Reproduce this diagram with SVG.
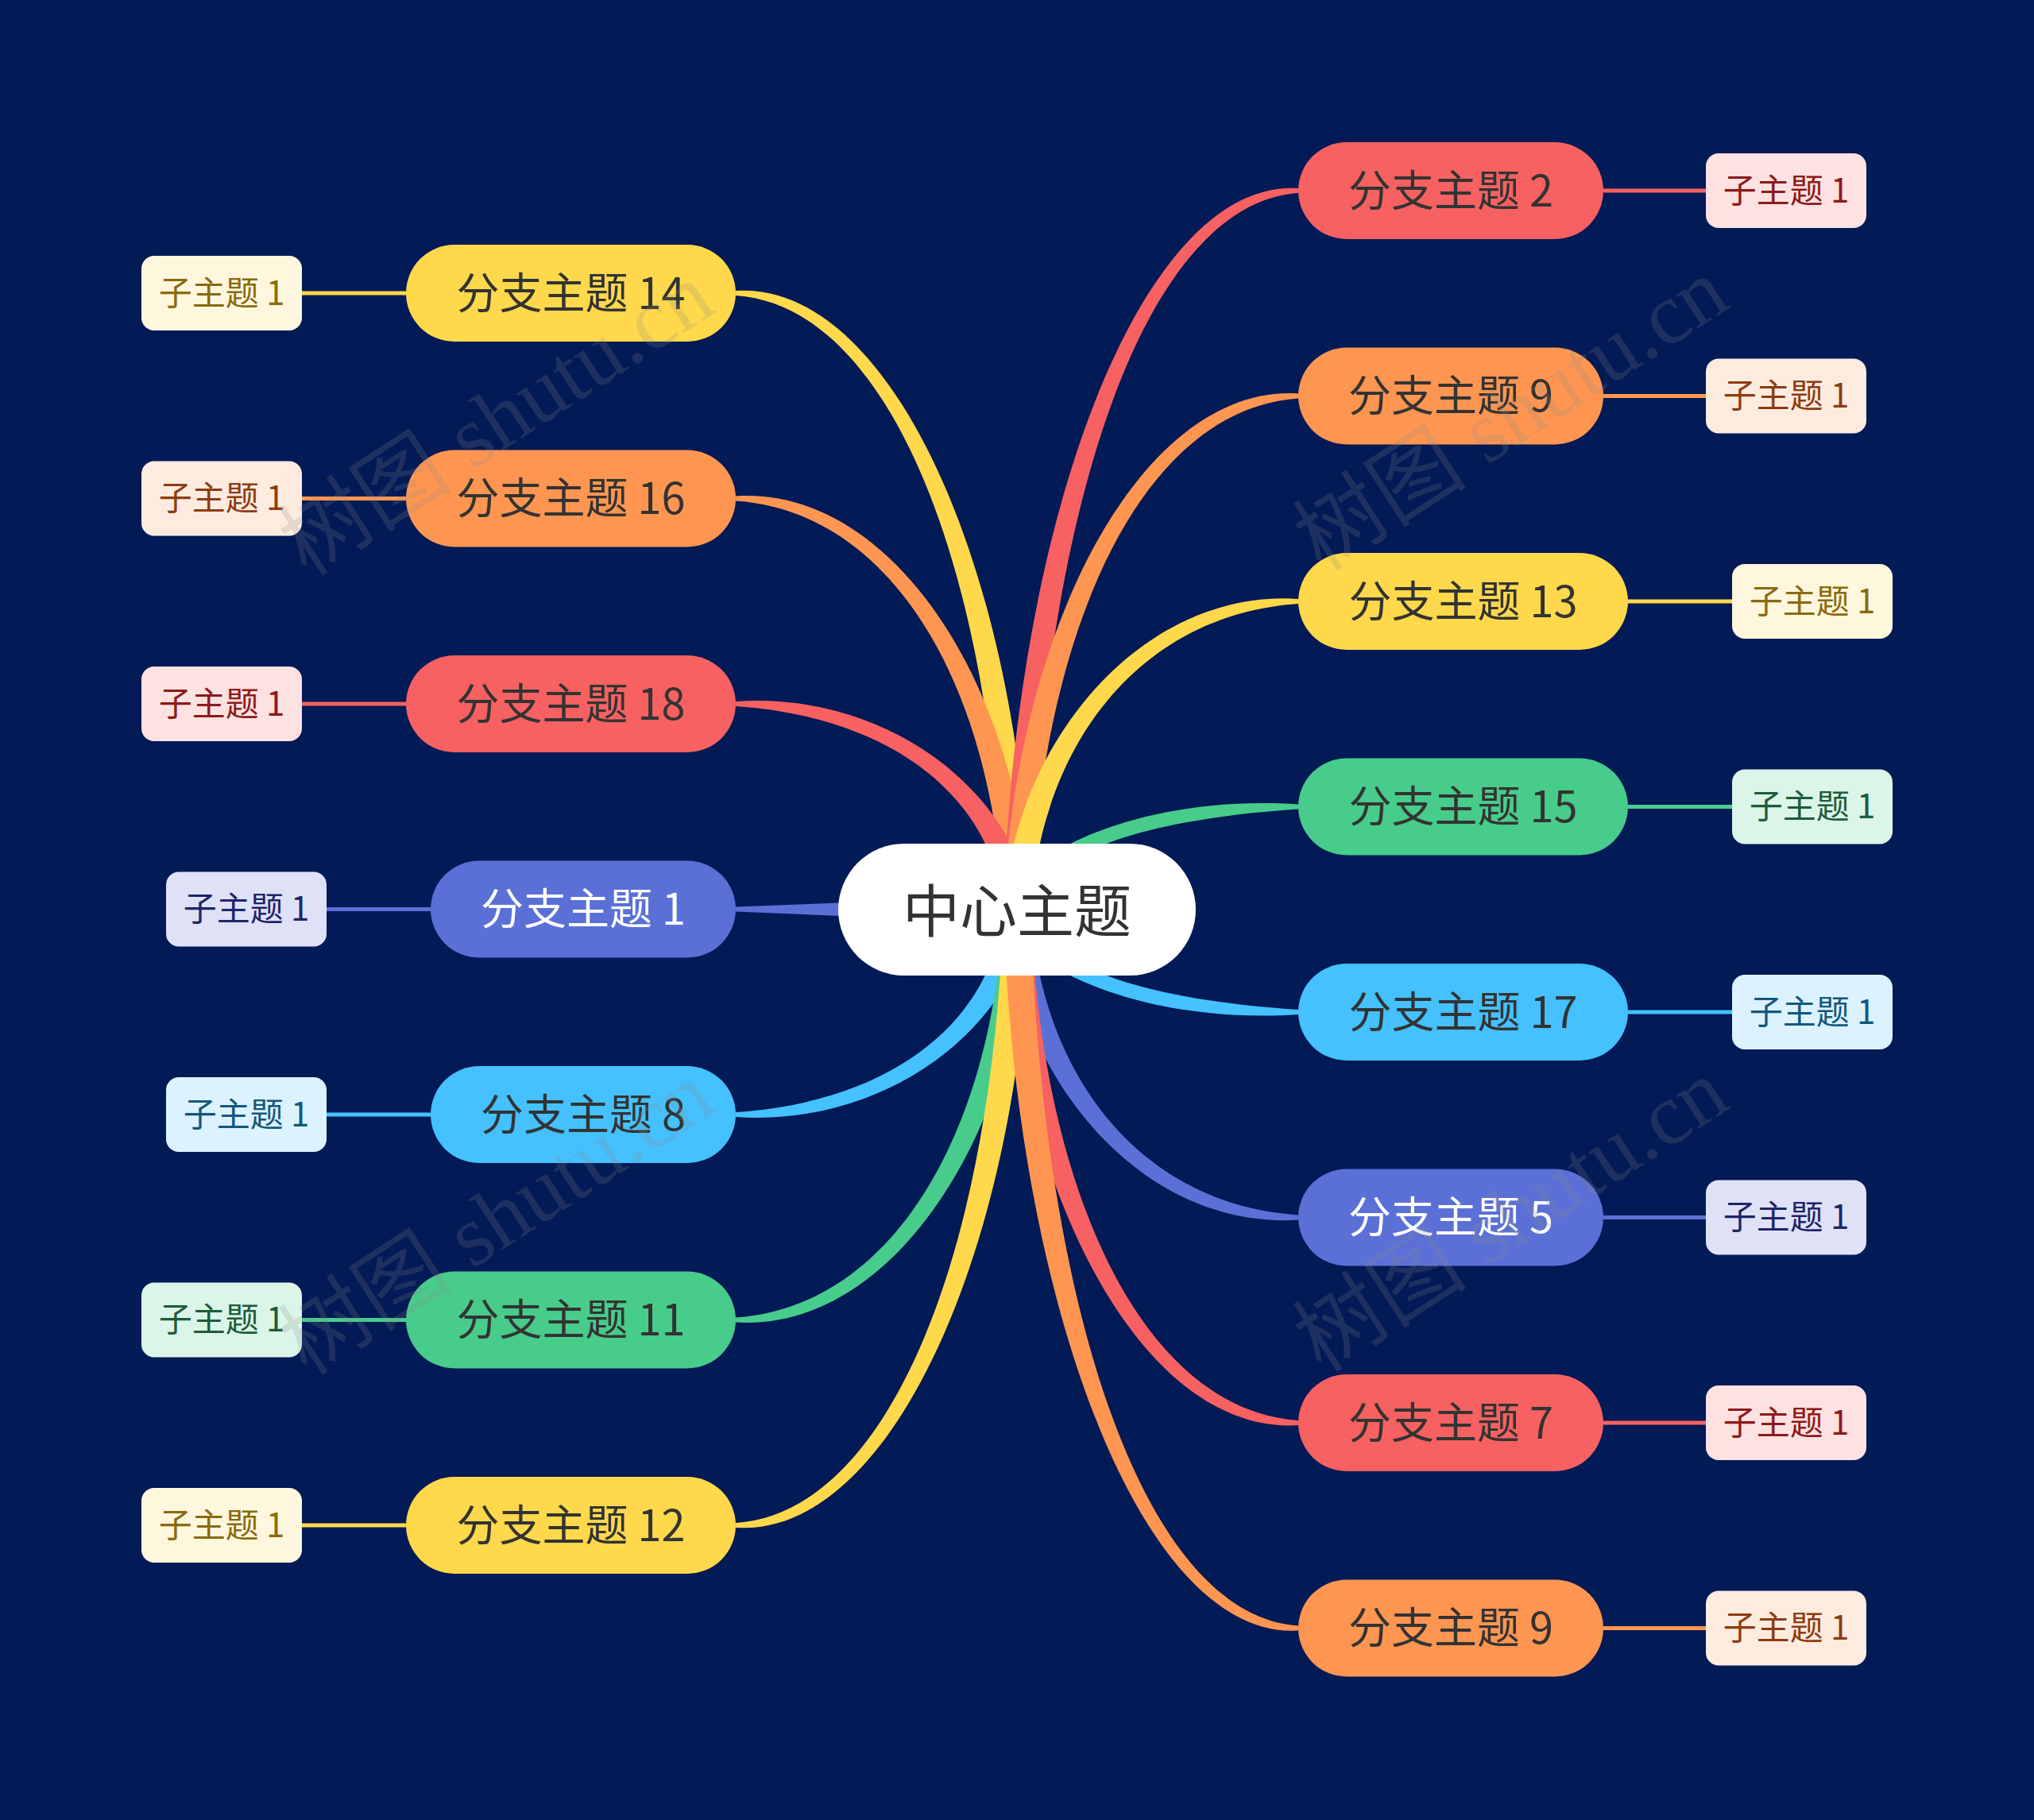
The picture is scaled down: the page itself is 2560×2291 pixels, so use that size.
<svg xmlns="http://www.w3.org/2000/svg" width="2560" height="2291" viewBox="0 0 2560 2291">
<style>
text{font-family:"Noto Sans CJK SC","Noto Sans",sans-serif;text-anchor:middle;dominant-baseline:central}
.ct,.bt,.bw,.st{transform:translateY(-4px)}
.ct{font-size:72px;fill:#333333}
.bt{font-size:54px;fill:#333333}
.bw{font-size:54px;fill:#ffffff}
.st{font-size:42px}
.br{rx:61px;ry:61px}
.sb{rx:16px;ry:16px}
.red{fill:#f76161}.ora{fill:#fe9651}.yel{fill:#ffd84b}.grn{fill:#48cc8b}.sky{fill:#44c1fe}.ind{fill:#5b70d6}
.sred{fill:#fee1e1}.sora{fill:#feebe0}.syel{fill:#fef7dd}.sgrn{fill:#dbf5e8}.ssky{fill:#dcf3ff}.sind{fill:#dfe2f7}
.tred{fill:#8c1a1a}.tora{fill:#8c3c10}.tyel{fill:#8a6a0d}.tgrn{fill:#1d5c3a}.tsky{fill:#13587c}.tind{fill:#1e2568}
.ln{stroke-width:5;fill:none}
.wm{font-family:"Liberation Serif","Noto Sans CJK SC",serif;font-size:110px;fill:#8a8a8a;opacity:0.2}
</style>
<rect width="2560" height="2291" fill="#021a56"/>
<g id="connectors">
<path class="yel" d="M1297,1145 C1283,718 1121,353 926,366 L926,372 C1121,385 1249,718 1263,1145Z"/>
<path class="ora" d="M1297,1145 C1283,860 1121,611.5 926,624.5 L926,630.5 C1121,643.5 1249,860 1263,1145Z"/>
<path class="red" d="M1297,1145 C1283,1002 1121,870 926,883 L926,889 C1121,902 1249,1002 1263,1145Z"/>
<path class="ind" d="M1280,1128 L926,1141.5 L926,1147.5 L1280,1162Z"/>
<path class="sky" d="M1297,1145 C1283,1287 1121,1419 926,1406 L926,1400 C1121,1387 1249,1287 1263,1145Z"/>
<path class="grn" d="M1297,1145 C1283,1429 1121,1677.5 926,1664.5 L926,1658.5 C1121,1645.5 1249,1429 1263,1145Z"/>
<path class="yel" d="M1297,1145 C1283,1571 1121,1936 926,1923 L926,1917 C1121,1904 1249,1571 1263,1145Z"/>
<path class="red" d="M1263,1145 C1277,647 1439,224 1634,237 L1634,243 C1439,256 1311,647 1297,1145Z"/>
<path class="ora" d="M1263,1145 C1277,789 1439,482.5 1634,495.5 L1634,501.5 C1439,514.5 1311,789 1297,1145Z"/>
<path class="yel" d="M1263,1145 C1277,932 1439,741 1634,754 L1634,760 C1439,773 1311,932 1297,1145Z"/>
<path class="grn" d="M1263,1145 C1277,1074 1439,999.5 1634,1012.5 L1634,1018.5 C1439,1031.5 1311,1074 1297,1145Z"/>
<path class="sky" d="M1263,1145 C1277,1216 1439,1290 1634,1277 L1634,1271 C1439,1258 1311,1216 1297,1145Z"/>
<path class="ind" d="M1263,1145 C1277,1358 1439,1548.5 1634,1535.5 L1634,1529.5 C1439,1516.5 1311,1358 1297,1145Z"/>
<path class="red" d="M1263,1145 C1277,1500 1439,1807 1634,1794 L1634,1788 C1439,1775 1311,1500 1297,1145Z"/>
<path class="ora" d="M1263,1145 C1277,1642 1439,2065.5 1634,2052.5 L1634,2046.5 C1439,2033.5 1311,1642 1297,1145Z"/>
<line class="ln" stroke="#ffd84b" x1="380" y1="369" x2="511" y2="369"/>
<line class="ln" stroke="#fe9651" x1="380" y1="627.5" x2="511" y2="627.5"/>
<line class="ln" stroke="#f76161" x1="380" y1="886" x2="511" y2="886"/>
<line class="ln" stroke="#5b70d6" x1="411" y1="1144.5" x2="542" y2="1144.5"/>
<line class="ln" stroke="#44c1fe" x1="411" y1="1403" x2="542" y2="1403"/>
<line class="ln" stroke="#48cc8b" x1="380" y1="1661.5" x2="511" y2="1661.5"/>
<line class="ln" stroke="#ffd84b" x1="380" y1="1920" x2="511" y2="1920"/>
<line class="ln" stroke="#f76161" x1="2018" y1="240" x2="2147" y2="240"/>
<line class="ln" stroke="#fe9651" x1="2018" y1="498.5" x2="2147" y2="498.5"/>
<line class="ln" stroke="#ffd84b" x1="2049" y1="757" x2="2180" y2="757"/>
<line class="ln" stroke="#48cc8b" x1="2049" y1="1015.5" x2="2180" y2="1015.5"/>
<line class="ln" stroke="#44c1fe" x1="2049" y1="1274" x2="2180" y2="1274"/>
<line class="ln" stroke="#5b70d6" x1="2018" y1="1532.5" x2="2147" y2="1532.5"/>
<line class="ln" stroke="#f76161" x1="2018" y1="1791" x2="2147" y2="1791"/>
<line class="ln" stroke="#fe9651" x1="2018" y1="2049.5" x2="2147" y2="2049.5"/>
</g>
<g id="center"><rect x="1055" y="1062" width="450" height="166" rx="83" fill="#ffffff"/><text class="ct" x="1280" y="1145">中心主题</text></g>
<g id="b14"><rect class="br yel" x="511" y="308" width="415" height="122"/><text class="bt" x="718.5" y="369">分支主题 14</text></g>
<g id="b16"><rect class="br ora" x="511" y="566.5" width="415" height="122"/><text class="bt" x="718.5" y="627.5">分支主题 16</text></g>
<g id="b18"><rect class="br red" x="511" y="825" width="415" height="122"/><text class="bt" x="718.5" y="886">分支主题 18</text></g>
<g id="b1"><rect class="br ind" x="542" y="1083.5" width="384" height="122"/><text class="bw" x="734" y="1144.5">分支主题 1</text></g>
<g id="b8"><rect class="br sky" x="542" y="1342" width="384" height="122"/><text class="bt" x="734" y="1403">分支主题 8</text></g>
<g id="b11"><rect class="br grn" x="511" y="1600.5" width="415" height="122"/><text class="bt" x="718.5" y="1661.5">分支主题 11</text></g>
<g id="b12"><rect class="br yel" x="511" y="1859" width="415" height="122"/><text class="bt" x="718.5" y="1920">分支主题 12</text></g>
<g id="b2"><rect class="br red" x="1634" y="179" width="384" height="122"/><text class="bt" x="1826" y="240">分支主题 2</text></g>
<g id="b9a"><rect class="br ora" x="1634" y="437.5" width="384" height="122"/><text class="bt" x="1826" y="498.5">分支主题 9</text></g>
<g id="b13"><rect class="br yel" x="1634" y="696" width="415" height="122"/><text class="bt" x="1841.5" y="757">分支主题 13</text></g>
<g id="b15"><rect class="br grn" x="1634" y="954.5" width="415" height="122"/><text class="bt" x="1841.5" y="1015.5">分支主题 15</text></g>
<g id="b17"><rect class="br sky" x="1634" y="1213" width="415" height="122"/><text class="bt" x="1841.5" y="1274">分支主题 17</text></g>
<g id="b5"><rect class="br ind" x="1634" y="1471.5" width="384" height="122"/><text class="bw" x="1826" y="1532.5">分支主题 5</text></g>
<g id="b7"><rect class="br red" x="1634" y="1730" width="384" height="122"/><text class="bt" x="1826" y="1791">分支主题 7</text></g>
<g id="b9b"><rect class="br ora" x="1634" y="1988.5" width="384" height="122"/><text class="bt" x="1826" y="2049.5">分支主题 9</text></g>
<g id="s14"><rect class="sb syel" x="178" y="322" width="202" height="94"/><text class="st tyel" x="279" y="369">子主题 1</text></g>
<g id="s16"><rect class="sb sora" x="178" y="580.5" width="202" height="94"/><text class="st tora" x="279" y="627.5">子主题 1</text></g>
<g id="s18"><rect class="sb sred" x="178" y="839" width="202" height="94"/><text class="st tred" x="279" y="886">子主题 1</text></g>
<g id="s1"><rect class="sb sind" x="209" y="1097.5" width="202" height="94"/><text class="st tind" x="310" y="1144.5">子主题 1</text></g>
<g id="s8"><rect class="sb ssky" x="209" y="1356" width="202" height="94"/><text class="st tsky" x="310" y="1403">子主题 1</text></g>
<g id="s11"><rect class="sb sgrn" x="178" y="1614.5" width="202" height="94"/><text class="st tgrn" x="279" y="1661.5">子主题 1</text></g>
<g id="s12"><rect class="sb syel" x="178" y="1873" width="202" height="94"/><text class="st tyel" x="279" y="1920">子主题 1</text></g>
<g id="s2"><rect class="sb sred" x="2147" y="193" width="202" height="94"/><text class="st tred" x="2248" y="240">子主题 1</text></g>
<g id="s9a"><rect class="sb sora" x="2147" y="451.5" width="202" height="94"/><text class="st tora" x="2248" y="498.5">子主题 1</text></g>
<g id="s13"><rect class="sb syel" x="2180" y="710" width="202" height="94"/><text class="st tyel" x="2281" y="757">子主题 1</text></g>
<g id="s15"><rect class="sb sgrn" x="2180" y="968.5" width="202" height="94"/><text class="st tgrn" x="2281" y="1015.5">子主题 1</text></g>
<g id="s17"><rect class="sb ssky" x="2180" y="1227" width="202" height="94"/><text class="st tsky" x="2281" y="1274">子主题 1</text></g>
<g id="s5"><rect class="sb sind" x="2147" y="1485.5" width="202" height="94"/><text class="st tind" x="2248" y="1532.5">子主题 1</text></g>
<g id="s7"><rect class="sb sred" x="2147" y="1744" width="202" height="94"/><text class="st tred" x="2248" y="1791">子主题 1</text></g>
<g id="s9b"><rect class="sb sora" x="2147" y="2002.5" width="202" height="94"/><text class="st tora" x="2248" y="2049.5">子主题 1</text></g>
<g id="watermark">
<text class="wm" transform="translate(625,528) rotate(-33)">树图 shutu.cn</text>
<text class="wm" transform="translate(1902,522) rotate(-33)">树图 shutu.cn</text>
<text class="wm" transform="translate(625,1534) rotate(-33)">树图 shutu.cn</text>
<text class="wm" transform="translate(1902,1530) rotate(-33)">树图 shutu.cn</text>
</g>
</svg>
